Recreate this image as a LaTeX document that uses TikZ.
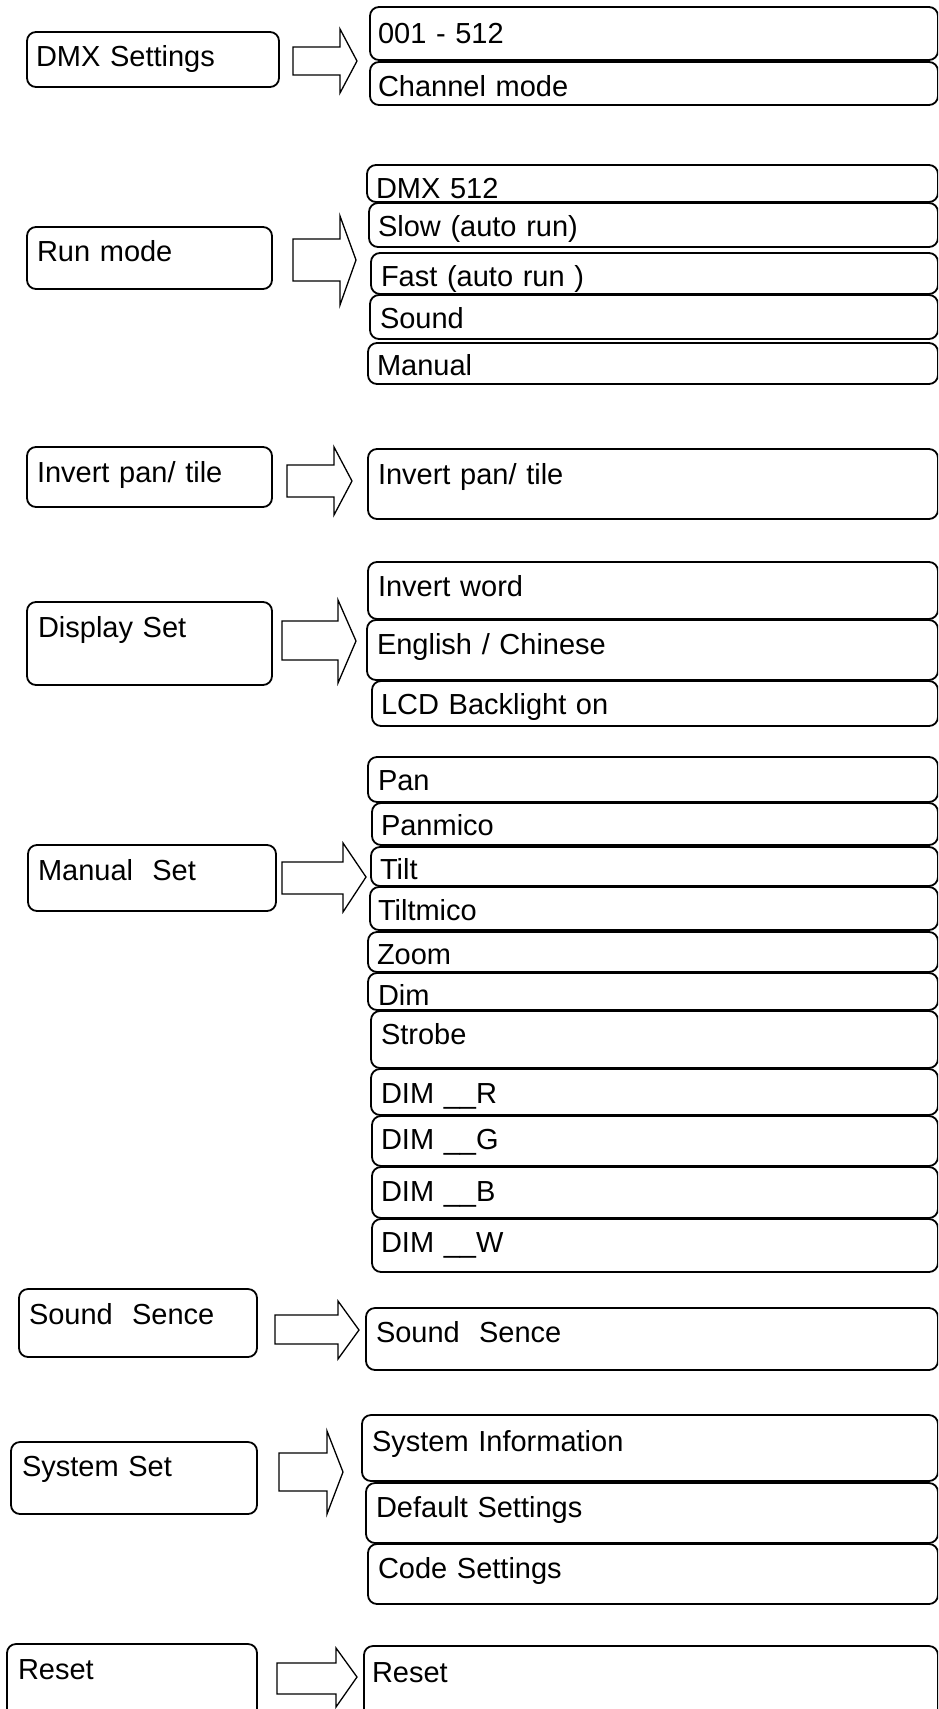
\documentclass[tikz,border=0pt]{standalone}
\usepackage{fontspec}
\setmainfont{Liberation Sans}
\usepackage{tikz}
\usetikzlibrary{positioning, calc}
\setlength{\parindent}{0pt}
\definecolor{MenuLine}{HTML}{000000}

\tikzset{
  menubox/.style={draw=MenuLine, line width=1.8pt, rounded corners=9pt,
                  inner ysep=0pt, outer sep=0pt, align=left,
                  font=\fontsize{29pt}{34pt}\selectfont},
  blockarr/.style={draw=MenuLine, line width=1.3pt, line join=miter}
}

% one menu box: name, x1, y1, x2, y2, text x, baseline y, text
\newcommand{\menuitem}[8]{%
  \pgfmathsetlengthmacro{\mpad}{(#6)-(#2)}%
  \pgfmathsetlengthmacro{\mwidth}{(#4)+(#2)-2*(#6)}%
  \pgfmathsetlengthmacro{\mheight}{(#7)-(#3)}%
  \pgfmathsetlengthmacro{\mdepth}{(#5)-(#7)}%
  \node[menubox, anchor=north west, inner xsep=\mpad, text width=\mwidth,
        text height=\mheight, text depth=\mdepth] (#1) at (#2,#3) {#8};%
}
% hollow block arrow: x0, shaft top, shaft bottom, head x, head top, head bottom, tip x, tip y
\newcommand{\blockarrow}[8]{%
  \draw[blockarr] (#1,#2) -- (#4,#2) -- (#4,#5) -- (#7,#8) -- (#4,#6)
                  -- (#4,#3) -- (#1,#3) -- cycle;%
}

\begin{document}
\begin{tikzpicture}[x=1pt, y=-1pt]
    \useasboundingbox (0,0) rectangle (938,1709);
    \clip (0,0) rectangle (938,1709);

    % DMX settings
    \menuitem{ldmx}{27}{32}{279}{87}{36}{66}{DMX Settings}
    \blockarrow{293}{47}{75}{340}{29}{93}{357}{61}
    \menuitem{raddr}{370}{7}{938}{60}{378}{43}{001 - 512}
    \menuitem{rchan}{370}{62}{938}{105}{378}{96}{Channel mode}

    % Run mode
    \menuitem{lrun}{27}{227}{272}{289}{37}{261}{Run mode}
    \blockarrow{293}{239}{281}{340}{216}{305}{356}{260}
    \menuitem{rdmx}{367}{165}{938}{202}{376}{198}{DMX 512}
    \menuitem{rslow}{369}{203}{938}{247}{378}{236}{Slow (auto run)}
    \menuitem{rfast}{371}{253}{938}{294}{381}{286}{Fast (auto run )}
    \menuitem{rsound}{370}{295}{938}{339}{380}{328}{Sound}
    \menuitem{rmanual}{368}{343}{938}{384}{377}{375}{Manual}

    % Invert pan/ tile
    \menuitem{linvert}{27}{447}{272}{507}{37}{482}{Invert pan/ tile}
    \blockarrow{287}{465}{497}{334}{447}{515}{352}{481}
    \menuitem{rinvert}{368}{449}{938}{519}{378}{484}{Invert pan/ tile}

    % Display set
    \menuitem{ldisplay}{27}{602}{272}{685}{38}{637}{Display Set}
    \blockarrow{282}{621}{660}{338}{600}{683}{356}{641}
    \menuitem{rword}{368}{562}{938}{619}{378}{596}{Invert word}
    \menuitem{rlang}{367}{620}{938}{680}{377}{654}{English / Chinese}
    \menuitem{rlcd}{372}{681}{938}{726}{381}{714}{LCD Backlight on}

    % Manual set
    \menuitem{lmanual}{28}{845}{276}{911}{38}{880}{Manual\ \ Set}
    \blockarrow{282}{862}{894}{343}{843}{912}{366}{877}
    \menuitem{rpan}{368}{757}{938}{802}{378}{790}{Pan}
    \menuitem{rpanmico}{372}{803}{938}{845}{381}{835}{Panmico}
    \menuitem{rtilt}{371}{847}{938}{886}{380}{879}{Tilt}
    \menuitem{rtiltmico}{370}{887}{938}{930}{378}{920}{Tiltmico}
    \menuitem{rzoom}{368}{932}{938}{972}{377}{964}{Zoom}
    \menuitem{rdim}{368}{973}{938}{1010}{378}{1005}{Dim}
    \menuitem{rstrobe}{371}{1011}{938}{1068}{381}{1044}{Strobe}
    \menuitem{rdimr}{371}{1069}{938}{1115}{381}{1103}{DIM \_\_R}
    \menuitem{rdimg}{372}{1116}{938}{1166}{381}{1149}{DIM \_\_G}
    \menuitem{rdimb}{372}{1167}{938}{1218}{381}{1201}{DIM \_\_B}
    \menuitem{rdimw}{372}{1219}{938}{1272}{381}{1252}{DIM \_\_W}

    % Sound sence
    \menuitem{lsense}{19}{1289}{257}{1357}{29}{1324}{Sound\ \ Sence}
    \blockarrow{275}{1315}{1344}{338}{1301}{1359}{359}{1330}
    \menuitem{rsense}{366}{1308}{938}{1370}{376}{1342}{Sound\ \ Sence}

    % System set
    \menuitem{lsystem}{11}{1442}{257}{1514}{22}{1476}{System Set}
    \blockarrow{279}{1453}{1491}{327}{1431}{1514}{343}{1472}
    \menuitem{rinfo}{362}{1415}{938}{1481}{372}{1451}{System Information}
    \menuitem{rdefault}{366}{1483}{938}{1543}{376}{1517}{Default Settings}
    \menuitem{rcode}{368}{1544}{938}{1604}{378}{1578}{Code Settings}

    % Reset
    \menuitem{lreset}{7}{1644}{257}{1730}{18}{1679}{Reset}
    \blockarrow{277}{1663}{1694}{336}{1648}{1707}{357}{1677}
    \menuitem{rreset}{364}{1646}{938}{1730}{372}{1682}{Reset}
\end{tikzpicture}
\end{document}
